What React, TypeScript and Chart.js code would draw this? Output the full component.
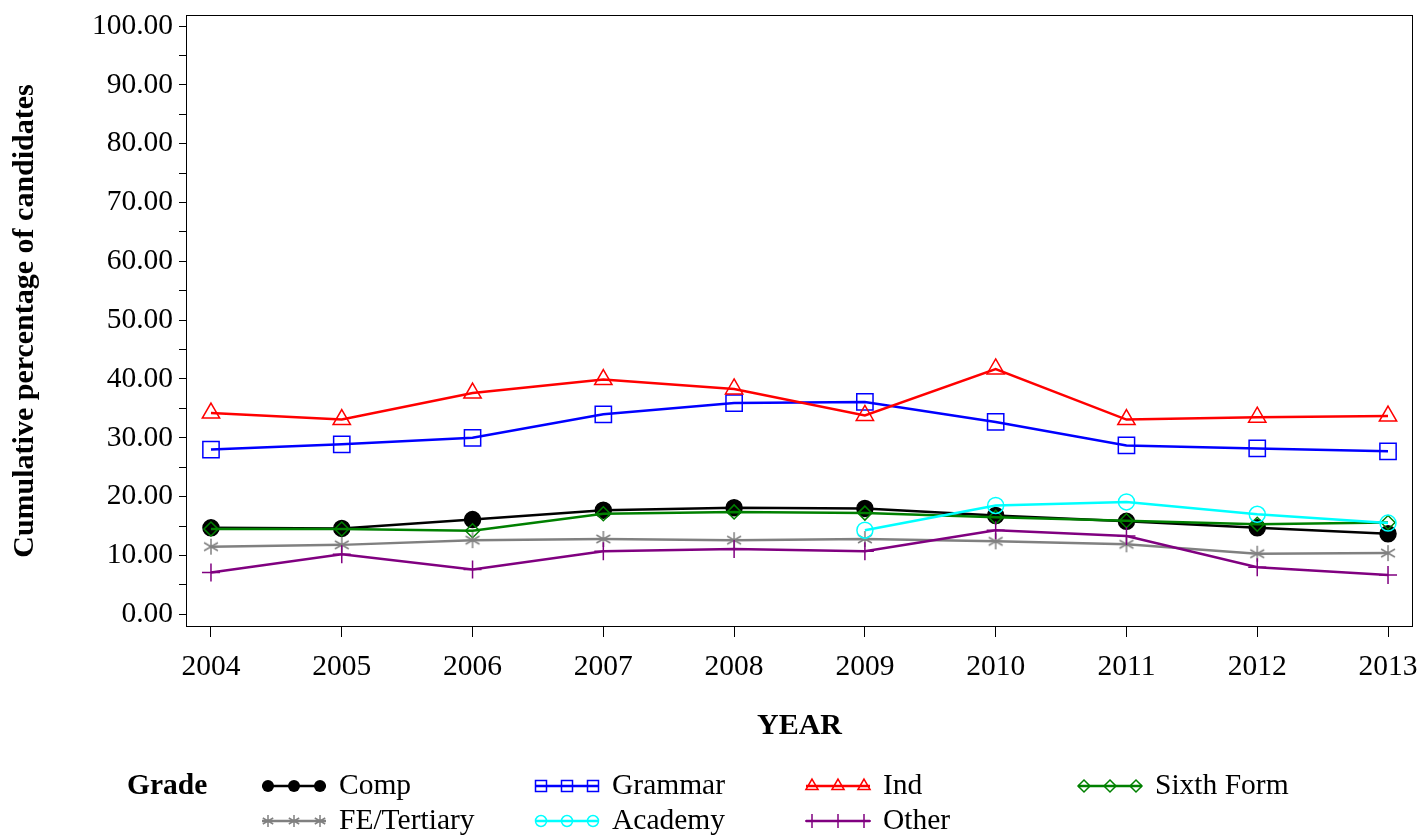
import React, { useEffect, useRef } from 'react';
import { Chart, registerables } from 'chart.js';

Chart.register(...registerables);

const FONT = '"Liberation Serif", "Times New Roman", serif';

// ---- data ----
const years = [2004, 2005, 2006, 2007, 2008, 2009, 2010, 2011, 2012, 2013];
const yTickValues = [0, 5, 10, 15, 20, 25, 30, 35, 40, 45, 50, 55, 60, 65, 70, 75, 80, 85, 90, 95, 100];

const comp = [14.7, 14.6, 16.1, 17.7, 18.1, 18.0, 16.8, 15.8, 14.7, 13.7];
const grammar = [28.0, 28.9, 30.0, 34.0, 35.9, 36.1, 32.7, 28.7, 28.2, 27.7];
const ind = [34.2, 33.1, 37.6, 39.9, 38.3, 33.8, 41.7, 33.1, 33.5, 33.7];
const sixthForm = [14.5, 14.5, 14.2, 17.1, 17.4, 17.2, 16.5, 15.9, 15.3, 15.6];
const feTertiary = [11.5, 11.8, 12.6, 12.8, 12.6, 12.8, 12.4, 11.9, 10.3, 10.4];
const academy: (number | null)[] = [null, null, null, null, null, 14.3, 18.5, 19.1, 17.0, 15.5];
const other = [7.1, 10.2, 7.6, 10.7, 11.1, 10.7, 14.3, 13.3, 8.0, 6.7];

const legendTitle = 'Grade';
const xTitle = 'YEAR';
const yTitle = 'Cumulative percentage of candidates';

type Kind = 'circleFilled' | 'circle' | 'square' | 'triangle' | 'diamond' | 'plus' | 'asterisk';

function drawMarker(ctx: CanvasRenderingContext2D, kind: Kind, x: number, y: number, s: number, color: string, lw = 1.5) {
  ctx.save();
  ctx.strokeStyle = color;
  ctx.fillStyle = color;
  ctx.lineWidth = lw;
  ctx.beginPath();
  switch (kind) {
    case 'circleFilled':
      ctx.arc(x, y, s, 0, Math.PI * 2);
      ctx.fill();
      break;
    case 'circle':
      ctx.arc(x, y, s, 0, Math.PI * 2);
      ctx.stroke();
      break;
    case 'square':
      ctx.rect(x - s, y - s, 2 * s, 2 * s);
      ctx.stroke();
      break;
    case 'triangle':
      ctx.moveTo(x, y - s);
      ctx.lineTo(x + s * 0.866, y + s * 0.5);
      ctx.lineTo(x - s * 0.866, y + s * 0.5);
      ctx.closePath();
      ctx.stroke();
      break;
    case 'diamond':
      ctx.moveTo(x, y - s);
      ctx.lineTo(x + s, y);
      ctx.lineTo(x, y + s);
      ctx.lineTo(x - s, y);
      ctx.closePath();
      ctx.stroke();
      break;
    case 'plus':
      ctx.moveTo(x, y - s);
      ctx.lineTo(x, y + s);
      ctx.moveTo(x - s, y);
      ctx.lineTo(x + s, y);
      ctx.stroke();
      break;
    case 'asterisk':
      [90, 30, 150].forEach((deg) => {
        const a = (deg * Math.PI) / 180;
        const dx = Math.cos(a) * s;
        const dy = Math.sin(a) * s;
        ctx.moveTo(x - dx, y - dy);
        ctx.lineTo(x + dx, y + dy);
      });
      ctx.stroke();
      break;
  }
  ctx.restore();
}

function makeImage(kind: Kind, s: number, color: string, lw: number) {
  const c = document.createElement('canvas');
  const size = Math.ceil(2 * s + 4);
  c.width = size;
  c.height = size;
  const ctx = c.getContext('2d')!;
  drawMarker(ctx, kind, size / 2, size / 2, s, color, lw);
  return c;
}

type SeriesDef = {
  label: string;
  data: (number | null)[];
  color: string;
  kind: Kind;
  legendSize: number;
  order: number;
};

const series: SeriesDef[] = [
  { label: 'Comp', data: comp, color: '#000000', kind: 'circleFilled', legendSize: 6, order: 7 },
  { label: 'Grammar', data: grammar, color: '#0000FF', kind: 'square', legendSize: 5.5, order: 6 },
  { label: 'Ind', data: ind, color: '#FF0000', kind: 'triangle', legendSize: 7, order: 5 },
  { label: 'Sixth Form', data: sixthForm, color: '#008000', kind: 'diamond', legendSize: 6, order: 4 },
  { label: 'FE/Tertiary', data: feTertiary, color: '#808080', kind: 'asterisk', legendSize: 6, order: 3 },
  { label: 'Academy', data: academy, color: '#00FFFF', kind: 'circle', legendSize: 5.5, order: 2 },
  { label: 'Other', data: other, color: '#800080', kind: 'plus', legendSize: 7, order: 1 },
];

function pointStyleFor(s: SeriesDef): any {
  switch (s.kind) {
    case 'circleFilled':
      return { pointStyle: 'circle', pointRadius: 8, pointBackgroundColor: s.color, pointBorderWidth: 1.5 };
    case 'circle':
      return { pointStyle: 'circle', pointRadius: 8, pointBackgroundColor: 'rgba(0,0,0,0)', pointBorderWidth: 1.5 };
    case 'square':
      return { pointStyle: 'rect', pointRadius: 11.5, pointBackgroundColor: 'rgba(0,0,0,0)', pointBorderWidth: 1.5 };
    case 'triangle':
      return { pointStyle: 'triangle', pointRadius: 10, pointBackgroundColor: 'rgba(0,0,0,0)', pointBorderWidth: 1.5 };
    case 'diamond':
      return { pointStyle: 'rectRot', pointRadius: 7, pointBackgroundColor: 'rgba(0,0,0,0)', pointBorderWidth: 1.5 };
    case 'plus':
      return { pointStyle: 'cross', pointRadius: 9, pointBorderWidth: 1.5 };
    case 'asterisk':
      return { pointStyle: makeImage('asterisk', 8, s.color, 1.5), pointRadius: 8 };
  }
}

const framePlugin = {
  id: 'frame',
  beforeDatasetsDraw(chart: any) {
    const { ctx, chartArea } = chart;
    ctx.save();
    ctx.strokeStyle = '#000';
    ctx.lineWidth = 1;
    ctx.strokeRect(
      Math.round(chartArea.left) + 0.5,
      Math.round(chartArea.top) + 0.5,
      Math.round(chartArea.right - chartArea.left) - 1,
      Math.round(chartArea.bottom - chartArea.top) - 1
    );
    ctx.restore();
  },
};

const legendPlugin = {
  id: 'customLegend',
  afterDraw(chart: any) {
    const ctx: CanvasRenderingContext2D = chart.ctx;
    const colX = [262, 535, 806, 1078];
    const rowY = [786, 821];
    ctx.save();
    ctx.fillStyle = '#000';
    ctx.textBaseline = 'middle';
    ctx.textAlign = 'left';
    ctx.font = `bold 29.5px ${FONT}`;
    ctx.fillText(legendTitle, 127, rowY[0]);
    ctx.font = `29.5px ${FONT}`;
    series.forEach((s, i) => {
      const x0 = colX[i % 4];
      const y = rowY[Math.floor(i / 4)];
      ctx.save();
      ctx.strokeStyle = s.color;
      ctx.lineWidth = 2.5;
      ctx.beginPath();
      ctx.moveTo(x0, y);
      ctx.lineTo(x0 + 64, y);
      ctx.stroke();
      ctx.restore();
      [x0 + 6, x0 + 32, x0 + 58].forEach((mx) => drawMarker(ctx, s.kind, mx, y, s.legendSize, s.color, 1.5));
      ctx.fillStyle = '#000';
      ctx.fillText(s.label, x0 + 77, y);
    });
    ctx.restore();
  },
};

export default function App() {
  const ref = useRef<HTMLCanvasElement>(null);

  useEffect(() => {
    if (!ref.current) return;
    Chart.defaults.color = '#000';
    const datasets = series.map((s) => ({
      label: s.label,
      data: years
        .map((yr, i) => ({ x: yr, y: s.data[i] }))
        .filter((p) => p.y !== null && p.y !== undefined),
      borderColor: s.color,
      backgroundColor: s.color,
      borderWidth: 2.5,
      pointBorderColor: s.color,
      order: s.order,
      ...pointStyleFor(s),
    }));

    const chart = new Chart(ref.current, {
      type: 'line',
      data: { datasets } as any,
      options: {
        animation: false,
        responsive: false,
        maintainAspectRatio: false,
        layout: { padding: { left: 0, right: 2, top: 15, bottom: 88 } },
        plugins: { legend: { display: false }, tooltip: { enabled: false } },
        elements: { line: { tension: 0 } },
        scales: {
          x: {
            type: 'linear',
            min: 2003.809,
            max: 2013.191,
            afterBuildTicks: (scale: any) => {
              scale.ticks = years.map((v) => ({ value: v }));
            },
            afterFit: (scale: any) => {
              scale.height = 120;
              scale.paddingLeft = 0;
              scale.paddingRight = 0;
            },
            border: { display: false },
            grid: { drawOnChartArea: false, drawTicks: true, tickLength: 10, color: '#000', lineWidth: 1 },
            ticks: {
              autoSkip: false,
              maxRotation: 0,
              padding: 13,
              color: '#000',
              font: { family: FONT, size: 29.5 },
              callback: (v: any) => String(v),
            },
            title: {
              display: true,
              text: xTitle,
              color: '#000',
              font: { family: FONT, size: 30, weight: 'bold' },
              padding: { top: 4, bottom: 3 },
            },
          },
          y: {
            type: 'linear',
            min: -2.16,
            max: 101.87,
            afterBuildTicks: (scale: any) => {
              scale.ticks = yTickValues.map((v) => ({ value: v }));
            },
            afterFit: (scale: any) => {
              scale.width = 186;
              scale.paddingTop = 0;
              scale.paddingBottom = 0;
            },
            border: { display: false },
            grid: { drawOnChartArea: false, drawTicks: true, tickLength: 7, color: '#000', lineWidth: 1 },
            ticks: {
              autoSkip: false,
              padding: 6,
              color: '#000',
              font: { family: FONT, size: 29.5 },
              callback: (v: any) => (Number(v) % 10 === 0 ? Number(v).toFixed(2) : ''),
            },
            title: {
              display: true,
              text: yTitle,
              color: '#000',
              font: { family: FONT, size: 30, weight: 'bold' },
              padding: { top: 7, bottom: 4 },
            },
          },
        },
      } as any,
      plugins: [framePlugin, legendPlugin],
    });
    return () => chart.destroy();
  }, []);

  return (
    <div style={{ position: 'absolute', left: 0, top: 0, width: 1420, height: 835, background: '#fff', overflow: 'hidden' }}>
      <canvas ref={ref} width={1426} height={835} style={{ display: 'block', width: 1426, height: 835 }} />
    </div>
  );
}
